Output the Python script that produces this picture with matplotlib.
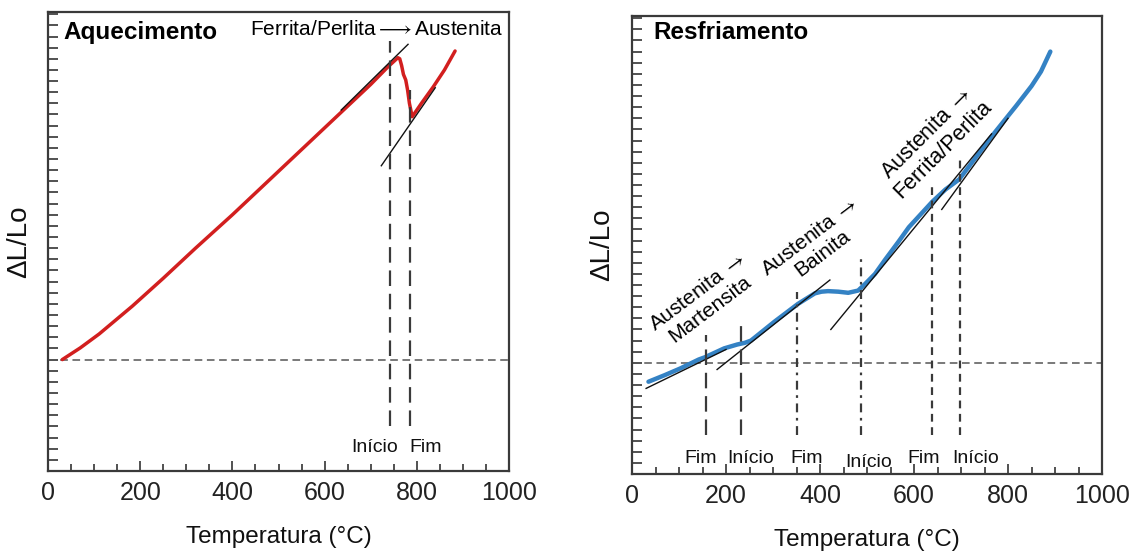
import numpy as np
import matplotlib
matplotlib.use("Agg")
import matplotlib.pyplot as plt

plt.rcParams['font.family'] = ['Liberation Sans', 'DejaVu Sans']
plt.rcParams['mathtext.fontset'] = 'stix'

# --- Aquecimento (heating) ---
heat_temp = [31, 70, 111, 183, 250, 320, 400, 500, 600, 700, 738, 759, 763, 767, 771, 776, 780, 784, 790,
             810, 836, 860, 883]
heat_dl = [0, 1.05, 2.3, 4.8, 7.3, 10.0, 13.0, 16.9, 20.8, 24.7, 26.3, 27.1, 27.0, 26.4, 25.6, 25.1, 24.2, 23.0, 21.8,
           23.0, 24.5, 26.0, 27.7]
heat_tan_t = [[636, 781], [723, 840]]
heat_tan_dl = [[22.4, 28.3], [17.4, 24.4]]
heat_marks = [742, 786]
heat_mark_top = [28.6, 24.2]
heat_mark_lab = ['Início', 'Fim']

# --- Resfriamento (cooling) ---
cool_temp = [35, 70, 103, 142, 155, 196, 224, 240, 253, 303, 353, 389, 403, 417, 439, 460, 481, 496, 517,
             538, 567, 589, 639, 667, 696, 730, 760, 817, 850, 870, 890]
cool_dl = [-1.7, -1.1, -0.5, 0.3, 0.5, 1.3, 1.65, 1.8, 2.0, 3.7, 5.3, 6.25, 6.4, 6.45, 6.4, 6.3, 6.5, 7.1, 8.0,
           9.25, 10.9, 12.2, 14.5, 15.6, 16.5, 18.4, 20.1, 23.1, 24.9, 26.2, 28.0]
cool_tan_t = [[30, 200], [181, 421], [423, 765], [659, 800]]
cool_tan_dl = [[-2.3, 1.2], [-0.6, 7.45], [3.0, 20.6], [13.8, 22.0]]
cool_marks = [157, 231, 351, 487, 639, 697]
cool_mark_top = [2.5, 3.85, 6.4, 9.4, 16.0, 18.4]
cool_mark_lab = ['Fim', 'Início', 'Fim', 'Início', 'Fim', 'Início']
cool_styles = [(0, (7, 3.5)), (0, (7, 3.5)), (0, (4, 2.5, 1.2, 2.5)), (0, (4, 2.5, 1.2, 2.5)),
               (0, (3.5, 2.5)), (0, (3.5, 2.5))]

long_arrow = r'$\longrightarrow$'
arrow = r'$\rightarrow$'

fig = plt.figure(figsize=(11.4, 5.56), dpi=100)
ax1 = fig.add_axes([0.0421, 0.1529, 0.4044, 0.8255])
ax2 = fig.add_axes([0.5544, 0.1475, 0.4123, 0.8237])

for ax in (ax1, ax2):
    ax.set_xlim(0, 1000)
    ax.set_ylim(-10, 31.2)
    ax.set_xticks(np.arange(0, 1001, 200))
    ax.set_xticks(np.arange(0, 1001, 50), minor=True)
    ax.set_yticks(np.arange(-9, 32))
    ax.set_yticklabels([])
    ax.tick_params(axis='both', which='both', direction='in', color='#333333', width=1.2,
                   top=False, right=False)
    ax.tick_params(axis='x', which='major', length=7, labelsize=18, labelcolor='#222222', pad=7)
    ax.tick_params(axis='x', which='minor', length=5)
    ax.tick_params(axis='y', length=7)
    for s in ax.spines.values():
        s.set_color('#3a3a3a')
        s.set_linewidth(1.6)
    ax.axhline(0, color='#555555', lw=1.1, ls=(0, (5, 3)))
    ax.set_xlabel('Temperatura (°C)', fontsize=17.5, color='#111111')
    ax.xaxis.set_label_coords(0.5, -0.12)
    ax.set_ylabel('ΔL/Lo', fontsize=20, color='#111111')
    ax.yaxis.set_label_coords(-0.035, 0.5)

# heating panel
ax1.plot(heat_temp, heat_dl, color='#d21f1f', lw=2.5, solid_capstyle='round')
for tt, dd in zip(heat_tan_t, heat_tan_dl):
    ax1.plot(tt, dd, color='#111111', lw=1.0)
for x, top in zip(heat_marks, heat_mark_top):
    ax1.plot([x, x], [-6.0, top], color='#3a3a3a', lw=1.6, ls=(0, (7, 3.5)))
ax1.text(709, -7.85, heat_mark_lab[0], fontsize=14, ha='center', va='center', color='#111111')
ax1.text(820, -7.85, heat_mark_lab[1], fontsize=14, ha='center', va='center', color='#111111')
ax1.text(0.033, 0.956, 'Aquecimento', transform=ax1.transAxes, fontsize=17.5, fontweight='bold',
         ha='left', va='center')
ax1.text(0.987, 0.961, 'Ferrita/Perlita' + long_arrow + 'Austenita', transform=ax1.transAxes,
         fontsize=15, ha='right', va='center')

# cooling panel
ax2.plot(cool_temp, cool_dl, color='#3482c4', lw=3.2, solid_capstyle='round')
for tt, dd in zip(cool_tan_t, cool_tan_dl):
    ax2.plot(tt, dd, color='#111111', lw=1.0)
for x, top, st in zip(cool_marks, cool_mark_top, cool_styles):
    ax2.plot([x, x], [-6.5, top], color='#3a3a3a', lw=1.6, ls=st)
lab_x = [146, 253, 371, 503, 621, 731]
lab_y = [-8.6, -8.6, -8.6, -9.0, -8.6, -8.6]
for x, y, t in zip(lab_x, lab_y, cool_mark_lab):
    ax2.text(x, y, t, fontsize=14, ha='center', va='center', color='#111111')
ax2.text(0.045, 0.963, 'Resfriamento', transform=ax2.transAxes, fontsize=17.5, fontweight='bold',
         ha='left', va='center')
ax2.text(153, 5.6, 'Austenita ' + arrow + '\nMartensita', rotation=37, fontsize=15, ha='center',
         va='center', multialignment='center', rotation_mode='anchor', linespacing=1.1)
ax2.text(392, 10.6, 'Austenita ' + arrow + '\nBainita', rotation=37, fontsize=15, ha='center',
         va='center', multialignment='center', rotation_mode='anchor', linespacing=1.1)
ax2.text(645, 19.9, 'Austenita ' + arrow + '\nFerrita/Perlita', rotation=45, fontsize=15.5, ha='center',
         va='center', multialignment='center', rotation_mode='anchor', linespacing=1.1)

fig.savefig('out.png', dpi=100)
